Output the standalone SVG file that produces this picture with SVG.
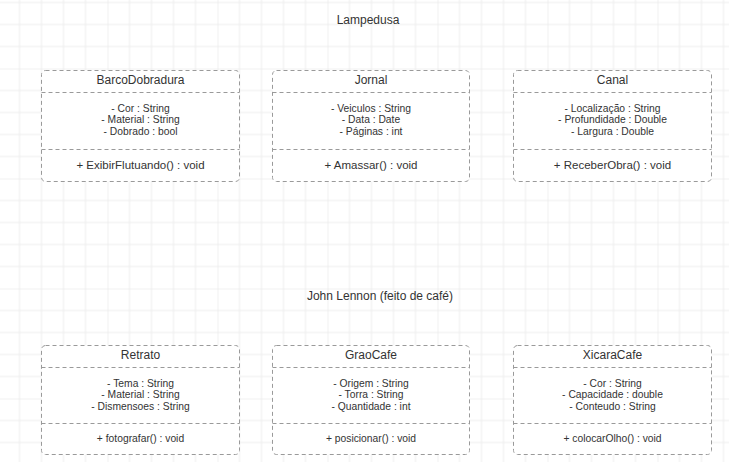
<svg xmlns="http://www.w3.org/2000/svg" width="729" height="462" viewBox="0 0 729 462">
<style>
  text { font-family: "Liberation Sans", Arial, sans-serif; fill: #333; text-anchor: middle; }
  .title { font-size: 12px; }
  .attr { font-size: 10.3px; }
  .meth { font-size: 11.5px; }
  .meth2 { font-size: 10.3px; }
  .box { fill: #ffffff; stroke: #9a9a9a; stroke-width: 1; stroke-dasharray: 4 3; }
  .div { stroke: #9a9a9a; stroke-width: 1; stroke-dasharray: 4 3; fill: none; }
</style>
<defs>
  <pattern id="grid" x="-2.5" y="-41.5" width="110" height="110" patternUnits="userSpaceOnUse">
    <path d="M22 0V110M44 0V110M66 0V110M88 0V110M0 22H110M0 44H110M0 66H110M0 88H110" stroke="#ededed" stroke-width="1" fill="none"/>
    <path d="M0 0V110M0 0H110" stroke="#e3e3e3" stroke-width="1" fill="none"/>
  </pattern>
</defs>
<rect width="729" height="462" fill="#ffffff"/>
<rect width="729" height="462" fill="url(#grid)"/>

<text class="title" x="368" y="24">Lampedusa</text>
<text class="title" x="380" y="300">John Lennon (feito de café)</text>

<g id="connectors"></g>

<g id="BarcoDobradura">
  <rect class="box" x="41.5" y="70.5" width="198" height="111" rx="4"/>
  <path class="div" d="M41.5 92.5H239.5M41.5 149.5H239.5"/>
  <text class="title" x="140.5" y="84">BarcoDobradura</text>
  <text class="attr" x="140.5" y="111.5">- Cor : String</text>
  <text class="attr" x="140.5" y="123">- Material : String</text>
  <text class="attr" x="140.5" y="134.5">- Dobrado : bool</text>
  <text class="meth" x="140.5" y="169">+ ExibirFlutuando() : void</text>
</g>

<g id="Jornal">
  <rect class="box" x="272.5" y="70.5" width="197" height="111" rx="4"/>
  <path class="div" d="M272.5 92.5H469.5M272.5 149.5H469.5"/>
  <text class="title" x="371" y="84">Jornal</text>
  <text class="attr" x="371" y="111.5">- Veiculos : String</text>
  <text class="attr" x="371" y="123">- Data : Date</text>
  <text class="attr" x="371" y="134.5">- Páginas : int</text>
  <text class="meth" x="371" y="169">+ Amassar() : void</text>
</g>

<g id="Canal">
  <rect class="box" x="513.5" y="70.5" width="198" height="111" rx="4"/>
  <path class="div" d="M513.5 92.5H711.5M513.5 149.5H711.5"/>
  <text class="title" x="612.5" y="84">Canal</text>
  <text class="attr" x="612.5" y="111.5">- Localização : String</text>
  <text class="attr" x="612.5" y="123">- Profundidade : Double</text>
  <text class="attr" x="612.5" y="134.5">- Largura : Double</text>
  <text class="meth" x="612.5" y="169">+ ReceberObra() : void</text>
</g>

<g id="Retrato">
  <rect class="box" x="41.5" y="345.5" width="198" height="109" rx="4"/>
  <path class="div" d="M41.5 367.5H239.5M41.5 423.5H239.5"/>
  <text class="title" x="140.5" y="359">Retrato</text>
  <text class="attr" x="140.5" y="386.5">- Tema : String</text>
  <text class="attr" x="140.5" y="398">- Material : String</text>
  <text class="attr" x="140.5" y="409.5">- Dismensoes : String</text>
  <text class="meth2" x="140.5" y="442">+ fotografar() : void</text>
</g>

<g id="GraoCafe">
  <rect class="box" x="272.5" y="345.5" width="197" height="109" rx="4"/>
  <path class="div" d="M272.5 367.5H469.5M272.5 423.5H469.5"/>
  <text class="title" x="371" y="359">GraoCafe</text>
  <text class="attr" x="371" y="386.5">- Origem : String</text>
  <text class="attr" x="371" y="398">- Torra : String</text>
  <text class="attr" x="371" y="409.5">- Quantidade : int</text>
  <text class="meth2" x="371" y="442">+ posicionar() : void</text>
</g>

<g id="XicaraCafe">
  <rect class="box" x="513.5" y="345.5" width="198" height="109" rx="4"/>
  <path class="div" d="M513.5 367.5H711.5M513.5 423.5H711.5"/>
  <text class="title" x="612.5" y="359">XicaraCafe</text>
  <text class="attr" x="612.5" y="386.5">- Cor : String</text>
  <text class="attr" x="612.5" y="398">- Capacidade : double</text>
  <text class="attr" x="612.5" y="409.5">- Conteudo : String</text>
  <text class="meth2" x="612.5" y="442">+ colocarOlho() : void</text>
</g>
</svg>
